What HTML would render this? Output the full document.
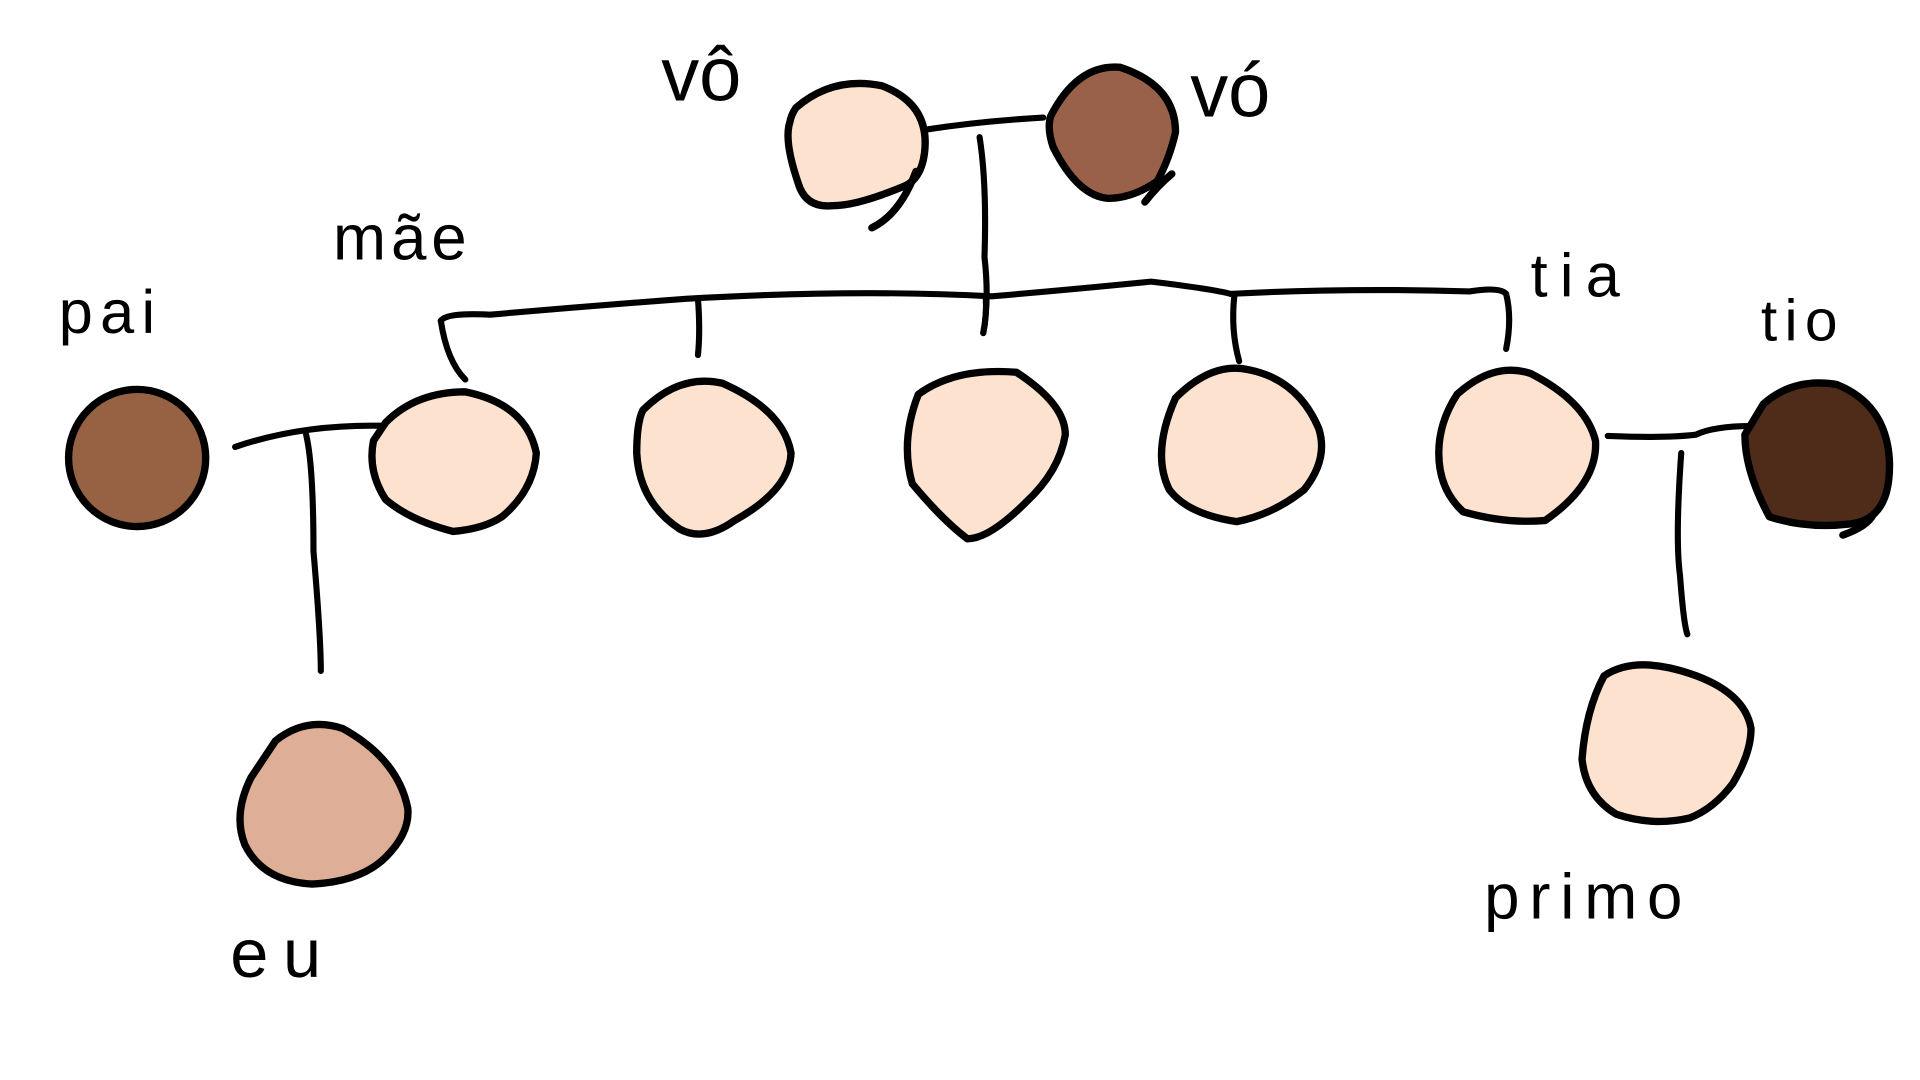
<!DOCTYPE html>
<html><head><meta charset="utf-8"><style>html,body{margin:0;padding:0;background:#fff}svg{display:block}</style></head>
<body>
<svg width="1920" height="1080" viewBox="0 0 1568 882" xmlns="http://www.w3.org/2000/svg">
<g fill="none" stroke="#000" stroke-width="5" stroke-linecap="round" stroke-linejoin="round">
<path d="M755 106 Q800 99 852 96"/>
<path d="M800 112 Q806 150 804 210 Q808 245 803 272"/>
<path d="M360 262 Q365 255 400 257 Q480 250 560 244 Q700 236 810 242 Q880 236 940 230 Q990 236 1005 240 Q1100 235 1200 238 Q1225 234 1230 240"/>
<path d="M360 262 Q365 295 380 310"/>
<path d="M570 244 Q572 270 570 290"/>
<path d="M805 242 Q806 258 803 272"/>
<path d="M1008 242 Q1005 270 1012 295"/>
<path d="M1230 240 Q1235 260 1230 285"/>
<path d="M192 365 Q250 345 322 348"/>
<path d="M250 355 Q256 380 256 450 Q262 520 262 548"/>
<path d="M1313 356 Q1360 358 1385 355 Q1400 348 1430 348"/>
<path d="M1373 370 Q1368 440 1372 470 Q1375 510 1378 518"/>
</g>
<g stroke="#000" stroke-width="6" stroke-linejoin="round" stroke-linecap="round">
<path d="M650 88 Q680 62 720 70 Q760 85 755 125 Q752 148 736 153 Q700 168 680 168 Q658 170 652 150 Q640 115 645 100 Q646 94 650 88 Z" fill="#fde3cf"/>
<path d="M748 140 Q735 175 712 186" fill="none"/>
<path d="M858 95 Q880 52 915 55 Q960 70 960 108 Q955 130 945 148 Q925 162 905 162 Q880 160 860 120 Q855 105 858 95 Z" fill="#99614a"/>
<path d="M957 142 Q945 152 935 165" fill="none"/>
<ellipse cx="112" cy="374" rx="56" ry="56" fill="#976143"/>
<path d="M315 345 Q340 320 380 320 Q430 330 438 370 Q436 400 410 422 Q395 432 370 434 Q335 425 315 408 Q300 385 305 360 Z" fill="#fde3cf"/>
<path d="M525 335 Q555 305 590 313 Q640 335 646 370 Q645 400 600 425 Q575 443 555 432 Q522 410 520 370 Q520 345 525 335 Z" fill="#fde3cf"/>
<path d="M750 322 Q780 300 830 304 Q870 330 870 355 Q865 385 838 410 Q808 440 790 440 Q770 425 745 395 Q735 360 750 322 Z" fill="#fde3cf"/>
<path d="M960 325 Q990 295 1020 302 Q1060 310 1077 350 Q1085 375 1065 400 Q1040 420 1010 426 Q970 420 955 400 Q940 370 960 325 Z" fill="#fde3cf"/>
<path d="M1190 322 Q1220 295 1250 305 Q1295 328 1303 360 Q1305 395 1262 425 Q1230 428 1195 418 Q1175 400 1175 370 Q1175 345 1190 322 Z" fill="#fde3cf"/>
<path d="M1440 330 Q1465 308 1500 314 Q1540 330 1543 375 Q1545 425 1510 428 Q1475 432 1445 422 Q1425 385 1425 355 Z" fill="#4f2b19"/>
<path d="M1505 437 Q1525 430 1530 420" fill="none"/>
<path d="M225 605 Q250 585 280 595 Q325 620 333 660 Q335 680 315 700 Q295 720 255 722 Q215 720 200 690 Q190 665 205 635 Z" fill="#deae96"/>
<path d="M1310 552 Q1335 535 1380 550 Q1425 565 1430 595 Q1430 615 1415 640 Q1400 660 1380 668 Q1350 675 1320 665 Q1295 650 1292 620 Q1295 580 1310 552 Z" fill="#fde3cf"/>
</g>
<g font-family="'Liberation Sans', sans-serif" fill="#000" font-weight="normal">
<text x="540" y="82" font-size="62">vô</text>
<text x="972" y="95" font-size="62">vó</text>
<text x="272" y="212" font-size="52" letter-spacing="4">mãe</text>
<text x="48" y="272" font-size="50" letter-spacing="6">pai</text>
<text x="1250" y="242" font-size="50" letter-spacing="10">tia</text>
<text x="1438" y="278" font-size="48" letter-spacing="6">tio</text>
<text x="188" y="798" font-size="56" letter-spacing="12">eu</text>
<text x="1212" y="750" font-size="52" letter-spacing="8">primo</text>
</g>
</svg>
</body></html>
